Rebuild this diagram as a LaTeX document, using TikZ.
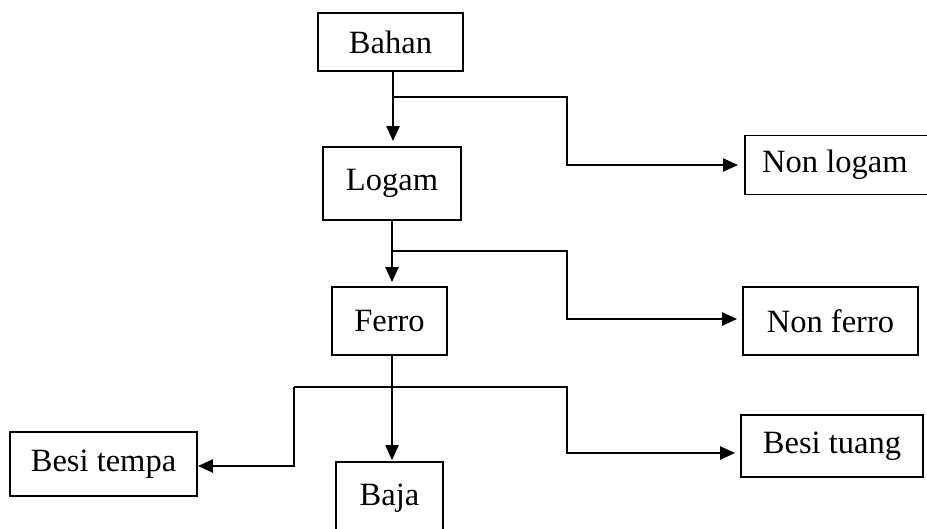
\documentclass[tikz,border=0pt]{standalone}
\usepackage{fontspec}
\setmainfont{Liberation Serif}
\usetikzlibrary{arrows.meta}
\begin{document}
\begin{tikzpicture}[x=1pt,y=-1pt,
  box/.style={draw, line width=1.8pt, inner sep=0pt, font=\fontsize{32.5}{33}\selectfont, fill=white},
  conn/.style={line width=2.2pt},
  arr/.style={conn, -{Triangle[length=15pt,width=13pt]}}]
\clip (0,0) rectangle (927,528);
\fill[white] (0,0) rectangle (927,528);
\node[box, minimum width=145pt, minimum height=58pt] (bahan) at (390.5,42) {Bahan};
\node[box, minimum width=138pt, minimum height=73pt] (logam) at (392,183.5) {Logam};
\node[box, minimum width=115pt, minimum height=68pt] (ferro) at (389.5,321) {Ferro};
\node[box, minimum width=107pt, minimum height=74pt] (baja) at (389.5,499) {\raisebox{8pt}{Baja}};
\node[box, minimum width=190pt, minimum height=59pt, anchor=west] (nonlogam) at (744,165) {\hspace*{-10pt}Non logam};
\node[box, minimum width=175pt, minimum height=68pt] (nonferro) at (830.5,321) {Non ferro};
\node[box, minimum width=182pt, minimum height=62pt] (besituang) at (832,446) {Besi tuang};
\node[box, minimum width=187pt, minimum height=64pt] (besitempa) at (103.5,464) {Besi tempa};
\coordinate (j1) at (393,97);
\coordinate (j2) at (392,251);
\coordinate (j3) at (392,387);
% Bahan
\draw[arr, shorten >=5pt] (bahan.south -| j1) -- (logam.north -| j1);
\draw[arr, shorten >=6pt] (j1) -- (567,97) |- (nonlogam.west);
% Logam
\draw[arr, shorten >=4pt] (logam.south -| j2) -- (ferro.north -| j2);
\draw[arr, shorten >=5pt] (j2) -- (567,251) |- (nonferro.west |- 0,319);
% Ferro
\draw[arr, shorten >=1pt] (ferro.south -| j3) -- (baja.north -| j3);
\draw[arr, shorten >=5pt] (294,387) -- (567,387) |- (besituang.west |- 0,453);
\draw[arr] (294,387) |- (besitempa.east |- 0,466);
\end{tikzpicture}
\end{document}
